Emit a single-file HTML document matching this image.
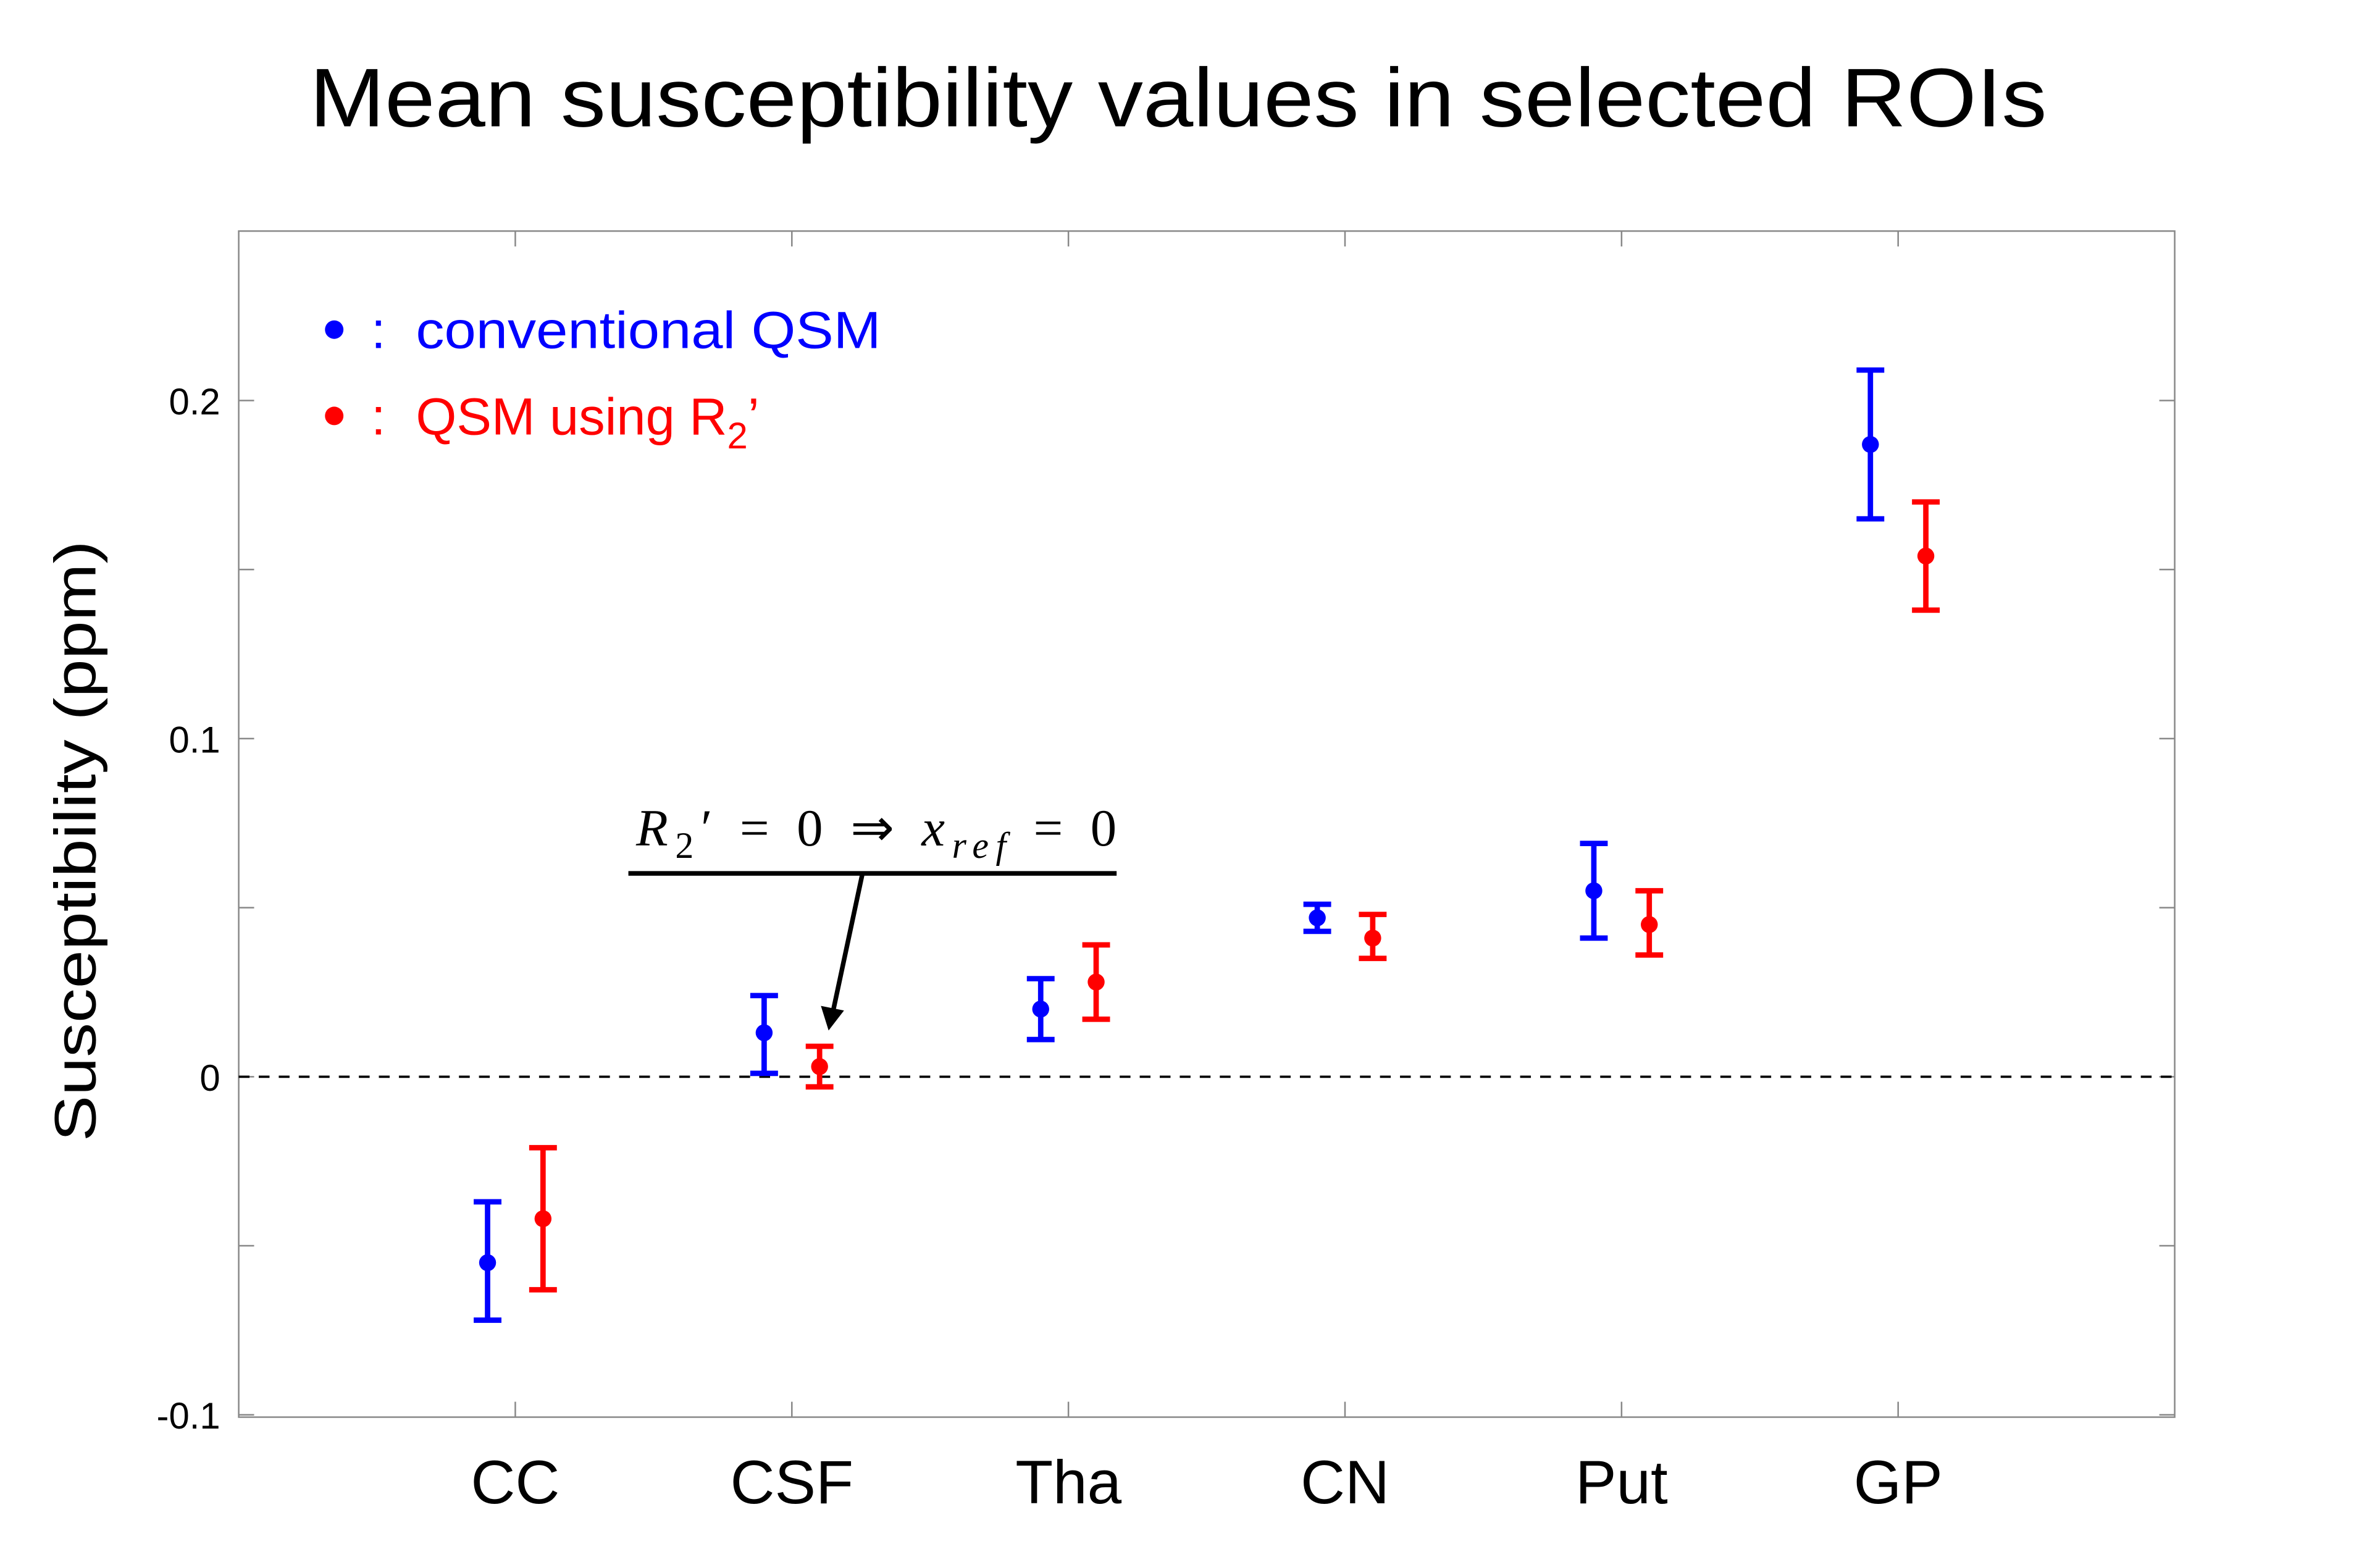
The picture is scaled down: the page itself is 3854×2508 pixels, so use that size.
<!DOCTYPE html>
<html><head><meta charset="utf-8"><style>
html,body{margin:0;padding:0;background:#fff;}
svg{display:block;}
</style></head><body>
<svg id="chart" xmlns="http://www.w3.org/2000/svg" width="3854" height="2508" viewBox="0 0 1545.3 1005.6">
<rect x="0" y="0" width="1545.3" height="1005.6" fill="#fff"/>
<text x="765" y="82" text-anchor="middle" font-family="Liberation Sans, sans-serif" font-size="54" textLength="1128" lengthAdjust="spacingAndGlyphs">Mean susceptibility values in selected ROIs</text>
<rect x="155" y="150" width="1257" height="770" fill="none" stroke="#888" stroke-width="1"/>
<g id="axes"></g>
<g id="marks"></g>
<text transform="translate(62,546) rotate(-90)" text-anchor="middle" font-family="Liberation Sans, sans-serif" font-size="38" textLength="390" lengthAdjust="spacingAndGlyphs">Susceptibility (ppm)</text>
<g font-family="Liberation Sans, sans-serif" font-size="34">
<circle cx="217" cy="214" r="6" fill="#0000ff"/>
<text x="241" y="226" fill="#0000ff">:</text>
<text x="270" y="226" fill="#0000ff" textLength="302" lengthAdjust="spacingAndGlyphs">conventional QSM</text>
<circle cx="217" cy="270" r="6" fill="#ff0000"/>
<text x="241" y="282" fill="#ff0000">:</text>
<text x="270" y="282" fill="#ff0000">QSM using R<tspan font-size="24" dy="9">2</tspan><tspan dy="-9">’</tspan></text>
</g>
<g>
<text x="413" y="549" font-family="Liberation Serif, serif" font-size="34" textLength="312" lengthAdjust="spacing"><tspan font-style="italic">R</tspan><tspan font-size="24" dy="8">2</tspan><tspan dy="-8">′ = 0  ⇒  </tspan><tspan font-style="italic">x</tspan><tspan font-style="italic" font-size="24" dy="8">ref</tspan><tspan dy="-8"> = 0</tspan></text>
<line x1="408" y1="567" x2="725" y2="567" stroke="#000" stroke-width="3"/>
<line x1="560" y1="567" x2="541" y2="656" stroke="#000" stroke-width="3"/>
<polygon points="538,669 533,653 548,656" fill="#000"/>
</g>
</svg>
<script>
const categories = ["CC","CSF","Tha","CN","Put","GP"];
const convMean = [-0.055, 0.013, 0.020, 0.047, 0.055, 0.187];
const convLow  = [-0.072, 0.001, 0.011, 0.043, 0.041, 0.165];
const convHigh = [-0.037, 0.024, 0.029, 0.051, 0.069, 0.209];
const r2Mean = [-0.042, 0.003, 0.028, 0.041, 0.045, 0.154];
const r2Low  = [-0.063, -0.003, 0.017, 0.035, 0.036, 0.138];
const r2High = [-0.021, 0.009, 0.039, 0.048, 0.055, 0.170];
const yTicks = [-0.1, 0, 0.1, 0.2];
const yTickLabels = ["-0.1","0","0.1","0.2"];
const yMinor = [-0.05, 0.05, 0.15];

const NS = "http://www.w3.org/2000/svg";
const L=155,R=1412,T=150,B=920;
function xScale(i){return L+(R-L)*(i+1)/(categories.length+1);}
function yScale(v){return 699-v*2195;}
function mk(tag,attrs,parent){const e=document.createElementNS(NS,tag);for(const k in attrs)e.setAttribute(k,attrs[k]);parent.appendChild(e);return e;}
const axes=document.getElementById('axes'), marks=document.getElementById('marks');

yTicks.concat(yMinor).forEach((v)=>{
  const y=yScale(v);
  const a=mk('line',{x1:L,y1:y,x2:L+10,y2:y,stroke:'#888','stroke-width':1},axes);
  
  
  const b=mk('line',{x1:R-10,y1:y,x2:R,y2:y,stroke:'#888','stroke-width':1},axes);
  
  
});
yTicks.forEach((v,i)=>{
  const t=mk('text',{x:L-12,y:yScale(v)+9,'text-anchor':'end','font-family':'Liberation Sans, sans-serif','font-size':24},axes);
  t.textContent=yTickLabels[i];
  
  
});
categories.forEach((c,i)=>{
  const x=xScale(i);
  const a=mk('line',{x1:x,y1:B,x2:x,y2:B-10,stroke:'#888','stroke-width':1},axes);
  
  
  const b=mk('line',{x1:x,y1:T,x2:x,y2:T+10,stroke:'#888','stroke-width':1},axes);
  
  
  const t=mk('text',{x:x,y:976,'text-anchor':'middle','font-family':'Liberation Sans, sans-serif','font-size':40},axes);
  t.textContent=c;
  
  
});
const zl=mk('line',{x1:L,y1:yScale(0),x2:R,y2:yScale(0),stroke:'#000','stroke-width':1.5,'stroke-dasharray':'7,6'},axes);



function series(mean,low,high,off,color,name){
  categories.forEach((c,i)=>{
    const x=xScale(i)+off;
    const g=mk('g',{},marks);
    
    
    mk('line',{x1:x,y1:yScale(low[i]),x2:x,y2:yScale(high[i]),stroke:color,'stroke-width':3.5},g);
    mk('line',{x1:x-9,y1:yScale(low[i]),x2:x+9,y2:yScale(low[i]),stroke:color,'stroke-width':3.5},g);
    mk('line',{x1:x-9,y1:yScale(high[i]),x2:x+9,y2:yScale(high[i]),stroke:color,'stroke-width':3.5},g);
    const p=mk('circle',{cx:x,cy:yScale(mean[i]),r:5.5,fill:color},marks);
    
    
  });
}
series(convMean,convLow,convHigh,-18,'#0000ff','conventional');
series(r2Mean,r2Low,r2High,18,'#ff0000','r2prime');
</script>
</body></html>
